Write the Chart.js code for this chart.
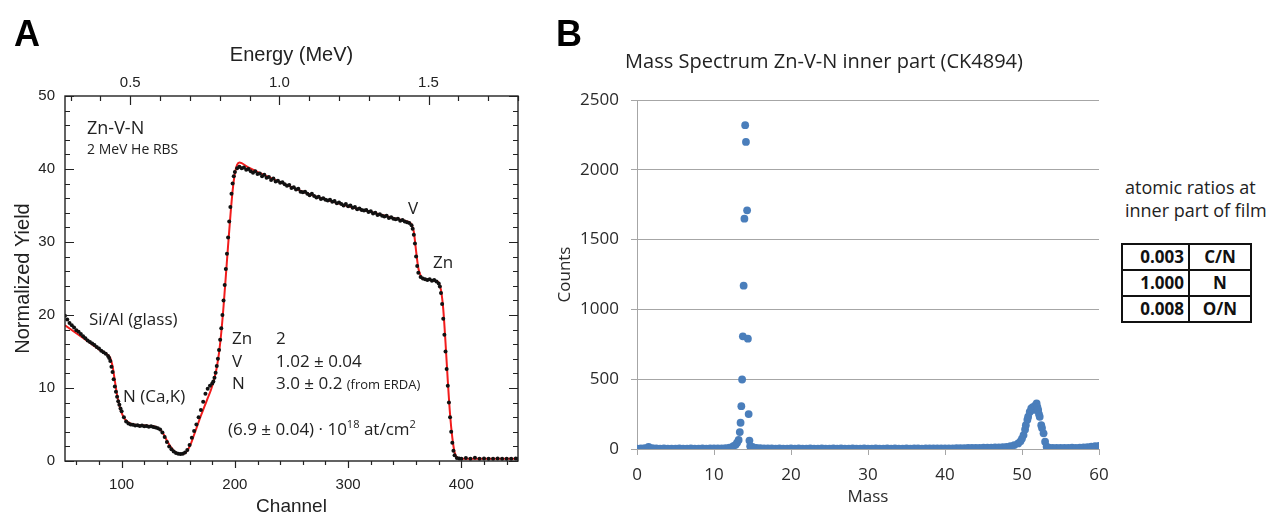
<!DOCTYPE html>
<html>
<head>
<meta charset="utf-8">
<script src="https://cdn.jsdelivr.net/npm/chart.js@4.4.1/dist/chart.umd.min.js"></script>
<style>
  html,body{margin:0;padding:0;background:#fff;}
  #wrap{position:relative;width:1271px;height:515px;overflow:hidden;background:#fff;}
  canvas{position:absolute;top:0;}
  .t{position:absolute;line-height:1;white-space:nowrap;transform:translateY(-50%);font-family:"Open Sans",sans-serif;color:#222;}
  .lab{font-family:"Liberation Sans",Arial,sans-serif;font-weight:bold;font-size:36px;color:#000;}
  sup{font-size:0.65em;vertical-align:0.55em;line-height:0;}
  table.r{position:absolute;left:1121px;top:243px;border-collapse:collapse;font-family:"Open Sans",sans-serif;font-weight:bold;font-size:17px;color:#111;}
  table.r td{border:2px solid #111;height:24px;padding:0 4px;line-height:24px;}
  table.r td.a{width:57px;text-align:right;}
  table.r td.b{width:52px;text-align:center;}
</style>
</head>
<body>
<div id="wrap">
  <canvas id="cA" width="540" height="515" style="left:0"></canvas>
  <canvas id="cB" width="580" height="515" style="left:540px"></canvas>

  <div class="t lab" style="left:14px;top:34px;">A</div>
  <div class="t lab" style="left:556px;top:34px;">B</div>

  <div class="t" style="left:87px;top:127px;font-size:18px;">Zn-V-N</div>
  <div class="t" style="left:87px;top:149px;font-size:14px;">2 MeV He RBS</div>
  <div class="t" style="left:89px;top:318px;font-size:17px;">Si/Al (glass)</div>
  <div class="t" style="left:123px;top:395px;font-size:17px;">N (Ca,K)</div>
  <div class="t" style="left:232px;top:337px;font-size:17px;">Zn</div>
  <div class="t" style="left:276px;top:337px;font-size:17px;">2</div>
  <div class="t" style="left:232px;top:360px;font-size:17px;">V</div>
  <div class="t" style="left:276px;top:360px;font-size:17px;">1.02 ± 0.04</div>
  <div class="t" style="left:232px;top:382px;font-size:17px;">N</div>
  <div class="t" style="left:276px;top:382px;font-size:17px;">3.0 ± 0.2 <span style="font-size:13px;">(from ERDA)</span></div>
  <div class="t" style="left:228px;top:428px;font-size:17px;">(6.9 ± 0.04) · 10<sup>18</sup> at/cm<sup>2</sup></div>
  <div class="t" style="left:408px;top:207px;font-size:17px;">V</div>
  <div class="t" style="left:433px;top:261px;font-size:17px;">Zn</div>

  <div class="t" style="left:824px;top:61px;font-size:20px;transform:translate(-50%,-50%);">Mass Spectrum Zn-V-N inner part (CK4894)</div>
  <div class="t" style="left:1125px;top:187px;font-size:18px;">atomic ratios at</div>
  <div class="t" style="left:1125px;top:210px;font-size:18px;">inner part of film</div>
  <table class="r">
    <tr><td class="a">0.003</td><td class="b">C/N</td></tr>
    <tr><td class="a">1.000</td><td class="b">N</td></tr>
    <tr><td class="a">0.008</td><td class="b">O/N</td></tr>
  </table>
</div>

<script>
// ---------------- Panel A : RBS spectrum ----------------
const dataChannel = [
  50,52,54,56,58,60,62,64,66,68,
  70,72,74,76,78,80,82,84,86,88,
  89,90,91,92,93,94,95,96,97,98,
  99,100,102,104,106,108,110,112,114,116,
  118,120,122,124,126,128,130,132,134,136,
  138,140,142,144,146,148,150,152,154,156,
  158,160,162,164,166,168,170,172,174,176,
  178,180,181,182,183,184,185,186,187,188,
  189,190,191,192,193,194,195,196,197,198,
  199,200,202,204,206,208,210,212,214,216,
  218,220,222,224,226,228,230,232,234,236,
  238,240,242,244,246,248,250,252,254,256,
  258,260,262,264,266,268,270,272,274,276,
  278,280,282,284,286,288,290,292,294,296,
  298,300,302,304,306,308,310,312,314,316,
  318,320,322,324,326,328,330,332,334,336,
  338,340,342,344,346,348,350,352,354,356,
  357,358,359,360,361,362,364,366,368,370,
  372,374,376,378,380,381,382,383,384,385,
  386,387,388,389,390,391,392,393,394,396,
  398,400,404,408,412,416,420,424,428,432,
  436,440,444,448,450
];
const dataYield = [
  19.9,19.4,18.9,18.6,18.3,17.9,17.7,17.4,17.1,16.8,
  16.5,16.3,16.1,15.9,15.6,15.4,15.1,14.9,14.7,14.4,
  14.1,13.7,12.9,12.2,11.2,10.2,9.5,8.8,8.2,7.7,
  7.2,6.8,6.0,5.4,5.15,5.0,4.95,4.85,4.9,4.8,
  4.85,4.75,4.8,4.7,4.75,4.65,4.6,4.5,4.3,3.9,
  3.3,2.6,2.0,1.6,1.3,1.1,1.0,0.95,1.0,1.15,
  1.5,2.2,3.2,4.1,5.0,6.0,7.0,8.1,9.2,9.9,
  10.3,10.6,10.9,11.4,12.1,13.0,14.0,15.2,16.6,18.2,
  20.0,22.0,24.1,26.3,28.4,30.6,32.8,34.8,36.6,38.0,
  39.0,39.6,40.1,40.3,40.1,40.2,39.9,40.0,39.7,39.5,
  39.7,39.3,39.4,39.0,39.2,38.8,38.9,38.5,38.7,38.3,
  38.4,38.1,38.2,37.9,37.7,37.8,37.4,37.5,37.2,37.3,
  36.9,36.8,36.9,36.6,36.4,36.6,36.3,36.1,36.2,35.9,
  36.0,35.8,35.7,35.8,35.5,35.6,35.3,35.4,35.2,35.0,
  35.2,34.9,35.0,34.7,34.8,34.5,34.6,34.4,34.3,34.4,
  34.1,34.2,33.9,34.0,33.7,33.8,33.6,33.5,33.6,33.3,
  33.4,33.2,33.1,33.2,32.9,33.0,32.8,32.7,32.6,32.3,
  31.8,31.0,29.8,28.0,26.7,25.8,25.2,25.0,24.9,24.8,
  24.9,24.7,24.8,24.6,24.3,23.9,23.0,21.5,19.5,17.3,
  15.0,12.6,10.3,8.0,6.0,4.0,2.5,1.4,0.8,0.4,
  0.35,0.3,0.4,0.3,0.45,0.3,0.35,0.3,0.3,0.35,
  0.3,0.3,0.3,0.35,0.3
];
const fitChannel = [
  50,60,70,80,88,90,92,94,96,98,
  100,103,108,115,125,131,134,137,140,143,
  146,149,152,155,158,161,164,167,170,173,
  176,179,182,184,186,188,190,192,194,196,
  198,200,202,204,206,210,220,240,260,280,
  300,320,340,350,354,356,358,360,362,364,
  366,372,378,380,382,384,386,388,390,392,
  394,396,398,400,450
];
const fitYield = [
  18.6,17.5,16.4,15.3,14.5,14.1,13.0,11.0,9.0,7.6,
  6.6,5.7,5.1,4.9,4.8,4.6,4.3,3.7,2.8,2.0,
  1.4,1.05,0.95,1.0,1.4,2.3,3.6,4.9,6.2,7.4,
  8.6,9.8,11.4,12.8,14.8,17.6,21.2,25.3,29.5,33.5,
  37.0,39.4,40.6,40.9,40.8,40.4,39.6,38.2,36.9,35.8,
  34.9,34.1,33.3,32.9,32.7,32.4,31.4,28.8,26.4,25.4,
  25.0,24.8,24.6,24.4,23.4,20.8,16.2,11.0,6.4,3.2,
  1.2,0.5,0.35,0.3,0.3
];
const channelTicksMajor = [100,200,300,400];
const channelTicksMinor = [60,80,120,140,160,180,220,240,260,280,320,340,360,380,420,440];
const energyTicksMajor = [0.5,1.0,1.5];
const energyTicksMinor = [0.3,0.4,0.6,0.7,0.8,0.9,1.1,1.2,1.3,1.4,1.6,1.7,1.8];
const yieldTicksMajor = [0,10,20,30,40,50];
const yieldTicksMinor = [2,4,6,8,12,14,16,18,22,24,26,28,32,34,36,38,42,44,46,48];

// ---------------- Panel B : mass spectrum ----------------
const massB = [
  0,0.5,1,1.5,2,2.5,3,3.5,4,4.5,
  5,5.5,6,6.5,7,7.5,8,8.5,9,9.5,
  10,10.5,11,11.5,12,12.5,12.8,13.0,13.2,13.35,
  13.45,13.55,13.65,13.75,13.85,13.95,14.05,14.15,14.3,14.4,
  14.5,14.6,14.7,14.8,15,15.5,16,16.5,17,17.5,
  18,18.5,19,19.5,20,20.5,21,21.5,22,22.5,
  23,23.5,24,24.5,25,25.5,26,26.5,27,27.5,
  28,28.5,29,29.5,30,30.5,31,31.5,32,32.5,
  33,33.5,34,34.5,35,35.5,36,36.5,37,37.5,
  38,38.5,39,39.5,40,40.5,41,41.5,42,42.5,
  43,43.5,44,44.5,45,45.5,46,46.5,47,47.5,
  48,48.5,49,49.5,49.8,50,50.2,50.4,50.5,50.7,
  50.8,51,51.2,51.4,51.6,51.7,51.9,52,52.1,52.2,
  52.3,52.5,52.6,52.8,53,53.2,53.5,54,54.5,55,
  55.5,56,56.5,57,57.5,58,58.5,59,59.5,60
];
const countsB = [
  3,4,6,15,6,4,3,4,3,3,
  3,4,3,3,4,3,3,4,3,4,
  4,5,5,6,10,20,30,45,65,121,
  188,307,498,807,1170,1650,2320,2200,1710,790,
  250,60,20,12,15,8,6,5,4,4,
  3,4,3,3,4,3,4,3,3,4,
  3,3,4,3,3,4,3,4,3,3,
  4,3,3,4,3,3,4,3,3,4,
  3,4,3,3,4,3,4,4,3,4,
  4,4,5,4,5,5,5,6,6,6,
  7,7,8,8,9,9,10,11,12,13,
  15,20,28,40,55,75,100,140,171,210,
  231,265,290,300,280,310,326,300,280,250,
  231,171,150,112,52,16,10,8,7,8,
  7,8,9,8,10,12,14,16,20,22
];

// ---------------- Chart A ----------------
const fontA = "'Liberation Sans', Arial, sans-serif";
const frameA = {
  id: 'frameA',
  afterDatasetsDraw(chart) {
    const {ctx, chartArea: a, scales} = chart;
    ctx.save();
    ctx.strokeStyle = '#222';
    ctx.lineWidth = 1.4;
    ctx.strokeRect(a.left, a.top, a.right - a.left, a.bottom - a.top);
    ctx.lineWidth = 1.2;
    ctx.beginPath();
    const vx = (sc, arr, len) => arr.forEach(v => {
      const p = Math.round(sc.getPixelForValue(v)) + 0.5;
      ctx.moveTo(p, a.bottom); ctx.lineTo(p, a.bottom + len);
    });
    const tx = (sc, arr, len) => arr.forEach(v => {
      const p = Math.round(sc.getPixelForValue(v)) + 0.5;
      ctx.moveTo(p, a.top); ctx.lineTo(p, a.top + len);
    });
    const ly = (sc, arr, len) => arr.forEach(v => {
      const p = Math.round(sc.getPixelForValue(v)) + 0.5;
      ctx.moveTo(a.left, p); ctx.lineTo(a.left + len, p);
      ctx.moveTo(a.right, p); ctx.lineTo(a.right - len, p);
    });
    vx(scales.x, channelTicksMajor, 7);
    vx(scales.x, channelTicksMinor, 4);
    tx(scales.x2, energyTicksMajor, 9);
    tx(scales.x2, energyTicksMinor, 5);
    ly(scales.y, yieldTicksMajor, 9);
    ly(scales.y, yieldTicksMinor, 5);
    ctx.stroke();
    ctx.restore();
  }
};

new Chart(document.getElementById('cA'), {
  type: 'scatter',
  data: {
    datasets: [
      {
        label: 'fit',
        data: fitChannel.map((c, i) => ({x: c, y: fitYield[i]})),
        showLine: true,
        borderColor: '#f21c1c',
        borderWidth: 2,
        pointRadius: 0,
        cubicInterpolationMode: 'monotone',
        order: 2
      },
      {
        label: 'data',
        data: dataChannel.map((c, i) => ({x: c, y: dataYield[i]})),
        pointRadius: 2.0,
        pointBackgroundColor: '#111',
        pointBorderWidth: 0,
        showLine: false,
        order: 1
      }
    ]
  },
  options: {
    responsive: false,
    animation: false,
    events: [],
    layout: {padding: {left: 13, top: 45, right: 22, bottom: 0}},
    plugins: {legend: {display: false}, tooltip: {enabled: false}},
    scales: {
      x: {
        type: 'linear', position: 'bottom', min: 50, max: 450,
        afterBuildTicks(s) { s.ticks = channelTicksMajor.map(v => ({value: v})); },
        ticks: {padding: 15, color: '#222', font: {family: fontA, size: 15}},
        grid: {display: false, drawTicks: false},
        border: {display: false},
        title: {display: true, text: 'Channel', color: '#222', font: {family: fontA, size: 19, lineHeight: 1}, padding: {top: 0, bottom: -1}},
        afterFit(s) { s.height = 54; s.paddingLeft = 0; s.paddingRight = 0; }
      },
      x2: {
        type: 'linear', position: 'top', min: 0.2813, max: 1.80, display: true,
        afterBuildTicks(s) { s.ticks = energyTicksMajor.map(v => ({value: v})); },
        ticks: {padding: 4, color: '#222', font: {family: fontA, size: 15},
                callback: v => Number(v).toFixed(1)},
        grid: {display: false, drawTicks: false},
        border: {display: false},
        title: {display: true, text: 'Energy (MeV)', color: '#222', font: {family: fontA, size: 20, lineHeight: 1}, padding: {top: 0, bottom: 0}},
        afterFit(s) { s.height = 51; s.paddingLeft = 0; s.paddingRight = 0; }
      },
      y: {
        type: 'linear', position: 'left', min: 0, max: 50,
        afterBuildTicks(s) { s.ticks = yieldTicksMajor.map(v => ({value: v})); },
        ticks: {padding: 10, color: '#222', font: {family: fontA, size: 15}},
        grid: {display: false, drawTicks: false},
        border: {display: false},
        title: {display: true, text: 'Normalized Yield', color: '#222', font: {family: fontA, size: 20, lineHeight: 1}, padding: {top: 0, bottom: 0}},
        afterFit(s) { s.width = 52; s.paddingTop = 0; s.paddingBottom = 0; }
      }
    }
  },
  plugins: [frameA]
});

// ---------------- Chart B ----------------
const fontB = "'Open Sans', sans-serif";
new Chart(document.getElementById('cB'), {
  type: 'scatter',
  data: {
    datasets: [{
      label: 'Counts',
      data: massB.map((m, i) => ({x: m, y: countsB[i]})),
      pointRadius: 3.9,
      pointBackgroundColor: '#4a7ebb',
      pointBorderWidth: 0,
      showLine: false
    }]
  },
  options: {
    responsive: false,
    animation: false,
    events: [],
    layout: {padding: {left: 15, top: 100, right: 21, bottom: 8}},
    plugins: {legend: {display: false}, tooltip: {enabled: false}},
    scales: {
      x: {
        type: 'linear', position: 'bottom', min: 0, max: 60,
        ticks: {stepSize: 10, padding: 10, color: '#2a2a2a', font: {family: fontB, size: 17}, callback: v => String(v)},
        grid: {drawOnChartArea: false, drawTicks: true, tickLength: 6, color: '#a6a6a6'},
        border: {display: true, color: '#a6a6a6', width: 1},
        title: {display: true, text: 'Mass', color: '#2a2a2a', font: {family: fontB, size: 17}, padding: {top: 0, bottom: 0}},
        afterFit(s) { s.height = 58; s.paddingLeft = 0; s.paddingRight = 0; }
      },
      y: {
        type: 'linear', position: 'left', min: 0, max: 2500,
        ticks: {stepSize: 500, padding: 12, color: '#2a2a2a', font: {family: fontB, size: 17}, callback: v => String(v)},
        grid: {drawTicks: true, tickLength: 6, color: '#a6a6a6'},
        border: {display: true, color: '#a6a6a6', width: 1},
        title: {display: true, text: 'Counts', color: '#2a2a2a', font: {family: fontB, size: 17}, padding: {top: 0, bottom: 0}},
        afterFit(s) { s.width = 82; s.paddingTop = 0; s.paddingBottom = 0; }
      }
    }
  }
});
</script>
</body>
</html>
